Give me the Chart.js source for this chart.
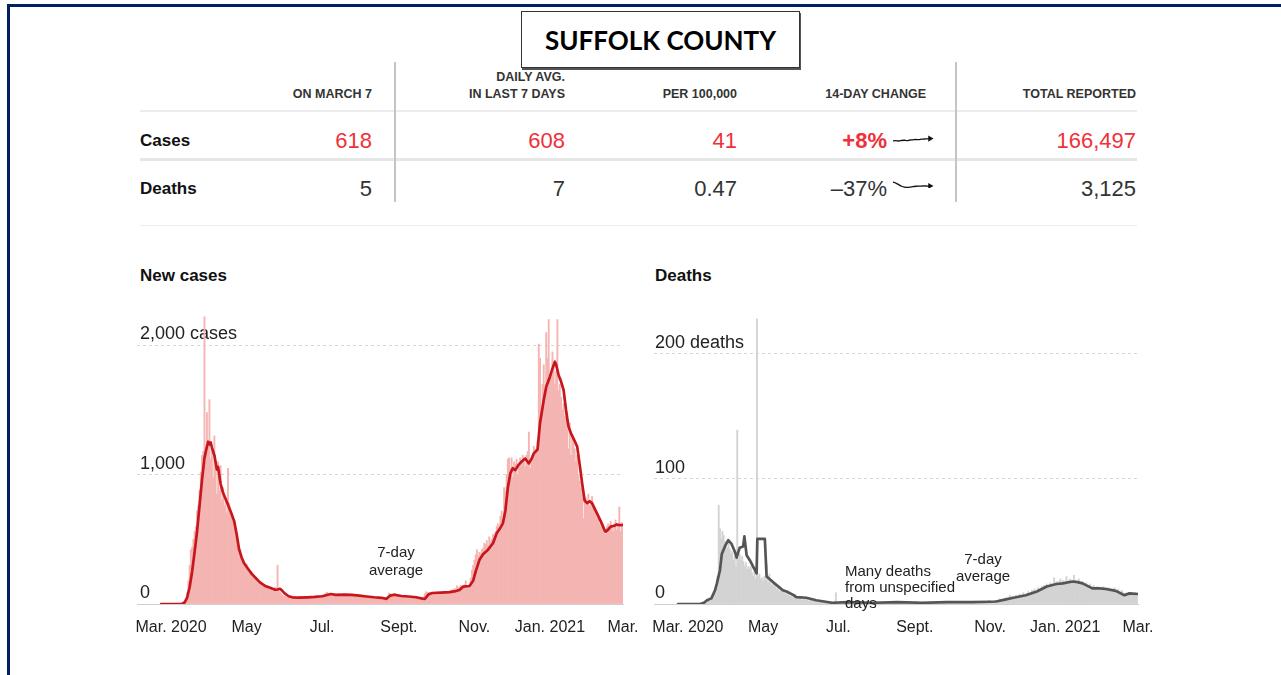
<!DOCTYPE html>
<html>
<head>
<meta charset="utf-8">
<script src="https://cdn.jsdelivr.net/npm/chart.js@4.4.1/dist/chart.umd.min.js"></script>
<style>
html,body{margin:0;padding:0;background:#fff;}
body{width:1281px;height:675px;position:relative;overflow:hidden;font-family:"Liberation Sans",Arial,sans-serif;color:#222;}
.abs{position:absolute;white-space:nowrap;}
#frameTop{left:7px;top:4px;width:1274px;height:3px;background:#002060;}
#frameLeft{left:7px;top:4px;width:3px;height:671px;background:#002060;}
#title{left:521px;top:11px;width:277px;height:55px;border:1px solid #333;box-shadow:1px 2px 0 #555;font-family:Lato,"Liberation Sans",sans-serif;font-weight:700;font-size:26px;display:flex;align-items:center;justify-content:center;color:#000;}
.hdr{font-weight:700;font-size:12.5px;color:#333;text-align:right;line-height:17px;}
.rowlab{font-weight:700;font-size:17px;color:#111;line-height:20px;}
.num{font-size:22px;text-align:right;line-height:26px;color:#333;}
.red{color:#f0303a;}
.line{background:#ececec;}
.vline{background:#c4c4c4;}
.head{font-weight:700;font-size:17px;color:#111;line-height:20px;}
.note{font-size:15px;color:#222;}
canvas{position:absolute;}
</style>
</head>
<body>
<div id="frameTop" class="abs"></div>
<div id="frameLeft" class="abs"></div>
<div id="title" class="abs">SUFFOLK COUNTY</div>

<!-- table header -->
<div class="abs hdr" style="right:909px;top:85.5px;">ON MARCH 7</div>
<div class="abs hdr" style="right:716px;top:68.5px;">DAILY AVG.<br>IN LAST 7 DAYS</div>
<div class="abs hdr" style="right:544px;top:85.5px;">PER 100,000</div>
<div class="abs hdr" style="right:355px;top:85.5px;">14-DAY CHANGE</div>
<div class="abs hdr" style="right:145px;top:85.5px;">TOTAL REPORTED</div>

<div class="abs line" style="left:140px;top:110px;width:997px;height:2px;"></div>
<div class="abs line" style="left:140px;top:158px;width:997px;height:3px;background:#e6e6e6;"></div>
<div class="abs line" style="left:140px;top:225px;width:997px;height:1px;"></div>
<div class="abs vline" style="left:394px;top:62px;width:2px;height:140px;"></div>
<div class="abs vline" style="left:955px;top:62px;width:2px;height:140px;"></div>

<div class="abs rowlab" style="left:140px;top:131px;">Cases</div>
<div class="abs rowlab" style="left:140px;top:179px;">Deaths</div>

<div class="abs num red" style="right:909px;top:128px;">618</div>
<div class="abs num red" style="right:716px;top:128px;">608</div>
<div class="abs num red" style="right:544px;top:128px;">41</div>
<div class="abs num red" style="right:394px;top:128px;font-weight:700;">+8%</div>
<div class="abs num red" style="right:145px;top:128px;">166,497</div>

<div class="abs num" style="right:909px;top:176px;">5</div>
<div class="abs num" style="right:716px;top:176px;">7</div>
<div class="abs num" style="right:544px;top:176px;">0.47</div>
<div class="abs num" style="right:394px;top:176px;">–37%</div>
<div class="abs num" style="right:145px;top:176px;">3,125</div>

<canvas id="sparkCases" width="46" height="16" style="left:889px;top:131px;"></canvas>
<canvas id="sparkDeaths" width="46" height="16" style="left:889px;top:176px;"></canvas>

<div class="abs head" style="left:140px;top:266px;">New cases</div>
<div class="abs head" style="left:655px;top:266px;">Deaths</div>

<canvas id="casesChart" width="580" height="344" style="left:100px;top:300px;"></canvas>
<canvas id="deathsChart" width="580" height="344" style="left:620px;top:300px;"></canvas>

<div class="abs note" style="left:346px;width:100px;top:543px;line-height:17.5px;text-align:center;">7-day<br>average</div>
<div class="abs note" style="left:933px;width:100px;top:551px;line-height:16.5px;text-align:center;">7-day<br>average</div>
<div class="abs note" style="left:845px;top:563px;line-height:16px;">Many deaths<br>from unspecified<br>days</div>

<script>
// ---------- DATA ----------
// day offsets are days since Mar. 1, 2020; daily series start at day -8 (Feb. 22, 2020)
const firstDay = -8;
const xTickDays = [0, 61, 122, 184, 245, 306, 365];
const xTickLabels = ['Mar. 2020', 'May', 'Jul.', 'Sept.', 'Nov.', 'Jan. 2021', 'Mar.'];

const casesTicks = [0, 1000, 2000];
const casesTickLabels = ['0', '1,000', '2,000 cases'];
const deathsTicks = [0, 100, 200];
const deathsTickLabels = ['0', '100', '200 deaths'];

const casesDaily = [
  0,0,0,0,0,0,0,0,1,0,
  0,0,1,1,2,4,6,8,15,25,
  40,90,180,300,420,440,500,560,600,720,
  760,880,1020,1150,1180,2220,1100,1480,1250,1580,
  1120,1200,980,1300,1050,850,1100,880,1070,800,
  900,760,820,700,1050,780,720,690,640,600,
  560,500,450,380,420,350,330,300,280,310,
  260,240,230,250,210,200,190,180,170,160,
  150,170,140,150,130,120,140,120,110,115,
  100,110,130,120,300,100,90,80,70,60,
  60,55,50,55,50,45,55,50,60,50,
  55,45,50,60,55,48,52,58,50,45,
  55,60,50,52,58,62,55,50,60,65,
  58,62,70,85,90,75,80,70,65,72,
  75,68,70,80,72,65,70,75,68,72,
  78,70,65,72,75,70,66,70,74,68,
  65,62,60,58,62,55,60,58,55,52,
  58,55,50,52,48,55,50,45,42,40,
  38,42,45,60,85,80,75,70,65,62,
  60,65,62,58,60,55,58,60,56,52,
  55,58,52,50,48,52,45,42,40,38,
  35,40,55,80,95,90,85,88,82,90,
  85,80,88,92,85,80,90,95,88,85,
  90,95,100,92,98,110,105,120,115,140,
  125,130,145,135,140,150,180,140,135,145,
  200,260,300,340,380,420,370,400,390,420,
  430,470,460,490,450,520,480,500,540,520,
  560,600,620,580,680,720,650,900,870,1000,
  1120,1130,1050,1130,980,1100,1080,1120,1000,1060,
  1130,1090,1150,1100,1060,1150,1180,1330,1050,1100,
  1150,1220,1180,1200,1260,2010,1900,1500,1700,1850,
  1600,2100,1900,2200,1750,1800,1950,1850,1700,1800,
  2200,1650,1700,1600,1500,1550,1450,1500,1350,1200,
  1400,1150,1300,1250,1200,1100,1150,1000,950,900,
  850,660,800,820,780,850,760,800,830,750,
  720,700,660,680,620,650,600,560,580,540,
  600,620,580,640,600,560,620,650,570,600,
  750,560,630,610
];

const casesAvgDays = [-8,5,9,11,13,15,17,19,21,23,25,27,29,30,31,32,33,35,37,38,40,42,45,48,51,53,55,57,59,62,65,68,72,76,80,84,86,88,90,92,95,98,104,110,116,122,126,129,133,140,146,152,158,164,170,174,177,180,186,192,198,203,205,208,211,218,225,230,233,236,241,244,246,249,252,256,260,263,266,268,270,272,274,276,278,281,283,286,289,291,293,296,298,301,303,306,308,310,311,313,315,317,319,321,323,326,328,330,332,334,336,338,340,342,344,346,348,350,351,353,355,358,360,362,365];
const casesAvgValues = [0,0,2,12,50,130,250,400,560,760,960,1130,1220,1255,1235,1250,1210,1150,1040,1060,930,860,790,720,640,540,420,360,315,275,235,205,165,140,125,110,112,118,100,80,60,52,50,52,55,60,70,77,70,72,70,65,58,52,48,40,65,72,62,58,52,42,40,75,85,88,92,100,108,135,139,180,250,340,385,420,470,547,590,624,720,900,1010,1050,1036,1080,1100,1125,1088,1120,1165,1195,1400,1578,1680,1758,1820,1874,1850,1770,1720,1655,1500,1370,1320,1260,1217,1080,933,800,780,795,780,740,701,660,620,572,560,575,598,605,615,610,611];

const deathsDaily = [
  0,0,0,0,0,0,0,0,0,0,
  0,0,0,0,0,0,0,0,0,0,
  1,0,1,1,2,3,2,5,6,8,
  12,15,22,79,60,52,58,55,50,48,
  45,50,44,40,42,35,38,30,139,36,
  40,35,38,34,30,33,28,30,28,30,
  25,22,26,20,228,22,24,20,21,18,
  22,20,32,17,24,18,15,16,14,15,
  12,13,10,12,11,9,10,8,9,7,
  8,6,7,5,6,8,5,4,5,4,
  6,3,4,5,3,4,2,3,3,2,
  4,2,3,1,2,3,1,2,1,2,
  1,0,2,1,1,0,1,2,9,1,
  0,1,2,1,0,2,1,0,1,2,
  1,0,1,1,2,0,1,1,0,1,
  2,1,1,0,1,2,1,0,1,1,
  0,2,1,1,0,1,2,1,1,0,
  1,1,2,1,0,1,1,2,1,1,
  0,1,2,1,1,0,1,1,2,1,
  1,0,1,2,1,1,0,1,1,2,
  1,1,0,1,1,2,1,0,1,1,
  2,1,0,1,2,1,1,0,1,2,
  1,1,2,0,1,1,2,1,1,1,
  0,2,1,1,2,1,0,1,2,1,
  1,2,1,0,1,2,1,2,1,2,
  1,1,3,2,1,2,2,3,2,3,
  2,4,3,2,4,3,5,3,4,7,
  3,6,5,4,7,5,6,8,6,7,
  9,6,8,7,10,8,9,11,9,12,
  10,11,13,10,12,14,12,15,13,16,
  14,15,17,14,16,21,17,18,16,18,
  20,17,19,16,18,22,17,19,20,18,
  17,23,19,16,18,20,17,15,18,16,
  14,17,15,13,16,14,12,15,13,11,
  14,12,13,11,12,14,12,13,11,13,
  12,10,12,11,13,10,11,12,10,9,
  11,8,7,9,6,8,9,7,9,8,
  7,9,8,8
];

const deathsAvgDays = [-8,10,13,15.5,19,22,23.5,26,27.5,30,32.7,35.4,38,39.5,42,44.8,45.8,47.6,50.2,55.7,56.3,62.4,63.8,69,77,80,85,88,96,104,117,130,150,170,190,210,230,245,250,257,264,274,283,291,299,304,312,316,320,324,328,334,339,347,354,358,365];
const deathsAvgValues = [0,0,1,3,4.5,11,16.5,27,40,46,51,48,42,37,45,46,54,39,35,24.5,52,52,22,17.5,11,10,7.5,5.5,5,3,1,1.5,1,1.5,1,1.5,1.5,1.8,2,3.5,5,7,10,14,16,16.5,18,17.5,16.5,14.5,12.5,12.5,12,10.5,7,8.5,8];

// 14-day trend sparklines (7-day averages over the last 14 days)
const casesSpark = [563,566,560,570,575,568,580,584,590,586,596,600,604,608];
const deathsSpark = [10.2,9.6,8.6,7.6,7.0,6.9,7.1,7.4,7.6,7.7,7.7,7.8,7.7,7.8];

// ---------- CHARTS ----------
const FONT = '"Liberation Sans", Arial, sans-serif';
function dailyPoints(vals) { return vals.map((v, i) => ({ x: firstDay + i, y: v })); }
function avgPoints(days, vals) { return days.map((d, i) => ({ x: d, y: vals[i] })); }

function areaChart(id, daily, avgDays, avgVals, barColor, lineColor, yMax, yTicks, yLabels, padL, padR, labelPad) {
  new Chart(document.getElementById(id), {
    type: 'bar',
    data: {
      datasets: [
        { type: 'line', data: avgPoints(avgDays, avgVals), borderColor: lineColor, borderWidth: 2.7,
          pointRadius: 0, tension: 0, fill: false, borderJoinStyle: 'round', borderCapStyle: 'round', order: 0 },
        { type: 'bar', data: dailyPoints(daily), backgroundColor: barColor, borderWidth: 0,
          barPercentage: 1, categoryPercentage: 1, order: 1 }
      ]
    },
    options: {
      animation: false, responsive: false, events: [],
      layout: { padding: { left: padL, right: padR, top: 15, bottom: 0 } },
      plugins: { legend: { display: false }, tooltip: { enabled: false } },
      scales: {
        x: {
          type: 'linear', min: -27.5, max: 365, offset: false,
          grid: { display: false, drawTicks: false, offset: false },
          border: { display: true, color: '#cfcfcf', width: 1 },
          afterBuildTicks: s => { s.ticks = xTickDays.map(v => ({ value: v })); },
          afterFit: s => { s.height = 40; },
          ticks: { autoSkip: false, maxRotation: 0, minRotation: 0, padding: 14, color: '#222',
            font: { family: FONT, size: 16 },
            callback: (v, i) => xTickLabels[i] }
        },
        y: {
          type: 'linear', min: 0, max: yMax,
          afterBuildTicks: s => { s.ticks = yTicks.map(v => ({ value: v })); },
          afterFit: s => { s.width = 0; },
          grid: { drawTicks: false, lineWidth: 1,
            color: ctx => (ctx.tick && ctx.tick.value === 0) ? 'rgba(0,0,0,0)' : '#d6d6d6' },
          border: { display: false, dash: [3, 3] },
          ticks: { mirror: true, padding: labelPad, labelOffset: -11, color: '#222',
            font: { family: FONT, size: 18 },
            callback: (v, i) => yLabels[i] }
        }
      }
    }
  });
}

areaChart('casesChart', casesDaily, casesAvgDays, casesAvgValues, '#f4b5b2', '#c8161d',
  2235, casesTicks, casesTickLabels, 37, 57, 3);
areaChart('deathsChart', deathsDaily, deathsAvgDays, deathsAvgValues, '#d3d3d3', '#555555',
  231, deathsTicks, deathsTickLabels, 34, 62, 1);

function spark(id, vals, ymin, ymax) {
  new Chart(document.getElementById(id), {
    type: 'line',
    data: { labels: vals.map((_, i) => i),
      datasets: [{ data: vals, borderColor: '#111', borderWidth: 1.3, tension: 0.3,
        pointRadius: vals.map((_, i) => i === vals.length - 1 ? 3.5 : 0),
        pointStyle: 'triangle', rotation: 90, pointBackgroundColor: '#111', pointBorderWidth: 0 }] },
    options: {
      animation: false, responsive: false, events: [],
      layout: { padding: { left: 2, right: 5, top: 3, bottom: 3 } },
      plugins: { legend: { display: false }, tooltip: { enabled: false } },
      scales: { x: { display: false }, y: { display: false, min: ymin, max: ymax } }
    }
  });
}
spark('sparkCases', casesSpark, 520, 680);
spark('sparkDeaths', deathsSpark, 6.5, 11.5);
</script>
</body>
</html>
